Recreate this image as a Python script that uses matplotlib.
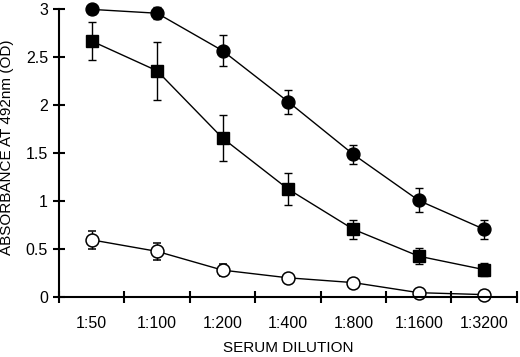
import matplotlib
matplotlib.use("Agg")
import matplotlib.pyplot as plt
import numpy as np

plt.rcParams['font.family'] = ['Liberation Sans', 'DejaVu Sans']

dilutions = ["1:50", "1:100", "1:200", "1:400", "1:800", "1:1600", "1:3200"]
filled_circle = [3.0, 2.96, 2.57, 2.04, 1.49, 1.01, 0.71]
filled_circle_err = [0.05, 0.06, 0.16, 0.125, 0.10, 0.125, 0.10]
filled_square = [2.67, 2.36, 1.66, 1.13, 0.71, 0.43, 0.29]
filled_square_err = [0.20, 0.30, 0.24, 0.165, 0.10, 0.085, 0.07]
open_circle = [0.60, 0.48, 0.285, 0.205, 0.155, 0.05, 0.03]
open_circle_err = [0.095, 0.09, 0.065, 0.04, 0.04, 0.03, 0.02]

fig = plt.figure(figsize=(5.2, 3.57), dpi=100)
ax = fig.add_axes([0.1135, 0.1667, 0.8805, 0.807])

x = np.arange(len(dilutions))
common = dict(color='black', lw=1.0, capsize=3.2, elinewidth=1.0, capthick=1.0, clip_on=False)
ax.errorbar(x, filled_circle, yerr=filled_circle_err, fmt='-o', ms=9.3, mfc='black', mec='black', **common)
ax.errorbar(x, filled_square, yerr=filled_square_err, fmt='-s', ms=8.8, mfc='black', mec='black', **common)
ax.errorbar(x, open_circle, yerr=open_circle_err, fmt='-o', ms=9.3, mfc='white', mec='black', mew=1.1, **common)

ax.set_xlim(-0.5, len(dilutions) - 0.5)
ax.set_ylim(0, 3)
ax.set_yticks([0, 0.5, 1, 1.5, 2, 2.5, 3])
ax.set_yticklabels(["0", "0.5", "1", "1.5", "2", "2.5", "3"])
ax.set_xticks(np.arange(len(dilutions) + 1) - 0.5)
ax.set_xticklabels([])
ax.set_xticks(x, dilutions, minor=True)
ax.tick_params(axis='x', which='minor', length=0, pad=13, labelsize=11.5)
ax.tick_params(axis='both', which='major', direction='inout', length=8, width=1.5, labelsize=11.5)
ax.tick_params(axis='y', pad=4)

for s in ['top', 'right']:
    ax.spines[s].set_visible(False)
for s in ['left', 'bottom']:
    ax.spines[s].set_linewidth(1.5)

ax.set_xlabel("SERUM DILUTION", fontsize=11)
ax.set_ylabel("ABSORBANCE AT 492nm (OD)", fontsize=11)
ax.xaxis.set_label_coords(0.5, -0.15)
ax.yaxis.set_label_coords(-0.098, 0.522)

fig.savefig("out.png", dpi=100)
